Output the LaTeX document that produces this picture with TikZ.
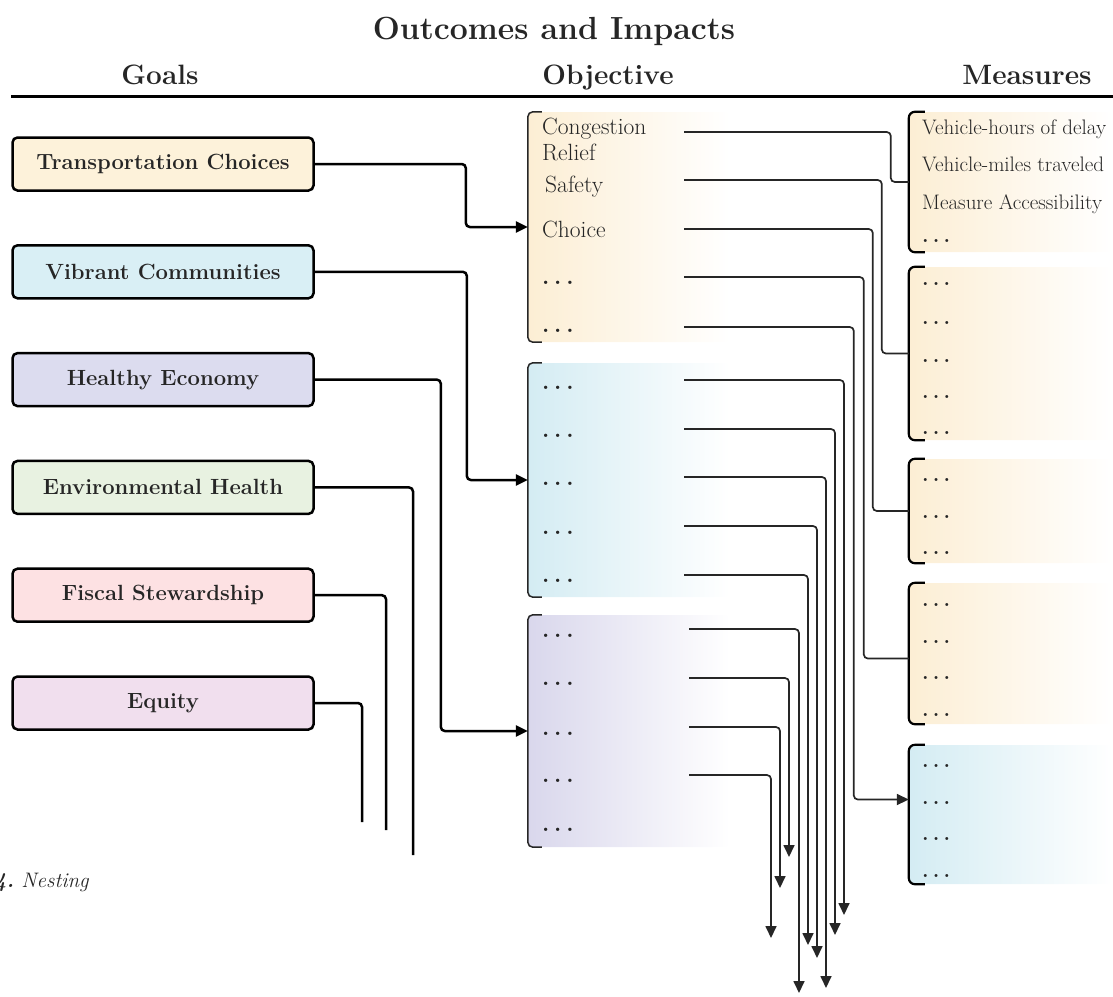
\documentclass[tikz,border=0pt]{standalone}
\usepackage{fontspec}
\usetikzlibrary{arrows.meta, calc, positioning, fit}
\definecolor{inkgray}{HTML}{262626}
\definecolor{tccream}{HTML}{FDF2DA}
\definecolor{vccyan}{HTML}{D9EFF5}
\definecolor{helav}{HTML}{DCDCEF}
\definecolor{ehgreen}{HTML}{E8F2E1}
\definecolor{fspink}{HTML}{FDE1E3}
\definecolor{eqmauve}{HTML}{F1DFEE}
\definecolor{shcream}{HTML}{FCEED4}
\definecolor{shcyan}{HTML}{D4ECF3}
\definecolor{shlav}{HTML}{D9D7EC}
\newcommand{\rowdots}{\textbf{.}\hspace{0.2em}\textbf{.}\hspace{0.2em}\textbf{.}}

\tikzset{
  goalbox/.style={draw=black, line width=2.5pt, rounded corners=5pt,
    minimum width=301pt, minimum height=53pt, inner sep=0pt,
    font=\fontsize{22}{26}\selectfont\bfseries, text=inkgray},
  header/.style={anchor=base, font=\fontsize{28}{32}\selectfont\bfseries, text=inkgray},
  fadebox/.style={inner sep=0pt, rounded corners=4pt},
  objitem/.style={anchor=base west, inner sep=0pt,
    font=\fontsize{23.5}{26}\selectfont, text=inkgray},
  measitem/.style={anchor=base west, inner sep=0pt,
    font=\fontsize{21}{24}\selectfont, text=inkgray},
  objedge/.style={draw=inkgray, line width=1.5pt, rounded corners=5pt},
  measedge/.style={draw=black, line width=2.2pt, rounded corners=6pt},
  goallink/.style={draw=black, line width=2.5pt, rounded corners=4pt},
  objlink/.style={draw=inkgray, line width=1.7pt, rounded corners=4pt},
  tip/.style={-{Triangle[length=12pt,width=11pt]}},
}

\begin{document}
\begin{tikzpicture}[x=1pt, y=-1pt]
    \useasboundingbox (0,0) rectangle (1113,996);

    % headings
    \node[header, font=\fontsize{32}{36}\selectfont\bfseries] (title) at (554,39) {Outcomes and Impacts};
    \node[header] (hgoals) at (160,84) {Goals};
    \node[header] (hobj) at (608,84) {Objective};
    \node[header] (hmeas) at (1027,84) {Measures};
    \draw[line width=3pt] (11,96) -- (1113,96);

    % goals
    \foreach \name/\txt/\col [count=\i] in {g1/Transportation Choices/tccream,
        g2/Vibrant Communities/vccyan, g3/Healthy Economy/helav,
        g4/Environmental Health/ehgreen, g5/Fiscal Stewardship/fspink,
        g6/Equity/eqmauve}
        \node[goalbox, fill=\col] (\name) at (163,{164+107.8*(\i-1)}) {\txt};

    % objective boxes
    \node[fadebox, fit={(528,112) (730,342)}, left color=shcream, right color=white] (ob1) {};
    \node[fadebox, fit={(528,363) (730,597)}, left color=shcyan, right color=white] (ob2) {};
    \node[fadebox, fit={(528,615) (730,847)}, left color=shlav, right color=white] (ob3) {};
    \foreach \b in {ob1,ob2,ob3}
        \draw[objedge] ($(\b.north west)+(14,0)$) -- (\b.north west)
            -- (\b.south west) -- ($(\b.south west)+(14,0)$);

    % measure boxes
    \node[fadebox, fit={(909,112) (1113,252)}, left color=shcream, right color=white] (m1) {};
    \node[fadebox, fit={(909,267) (1113,440)}, left color=shcream, right color=white] (m2) {};
    \node[fadebox, fit={(909,459) (1113,563)}, left color=shcream, right color=white] (m3) {};
    \node[fadebox, fit={(909,583) (1113,724)}, left color=shcream, right color=white] (m4) {};
    \node[fadebox, fit={(909,745) (1113,884)}, left color=shcyan, right color=white] (m5) {};
    \foreach \b in {m1,m2,m3,m4,m5}
        \draw[measedge] ($(\b.north west)+(16,0)$) -- (\b.north west)
            -- (\b.south west) -- ($(\b.south west)+(16,0)$);

    % objective items
    \node[objitem] (o1c) at (542,134) {Congestion};
    \node[objitem] (o1r) at (542,160) {Relief};
    \node[objitem] (o12) at (545,192) {Safety};
    \node[objitem] (o13) at (542,237) {Choice};
    \node[objitem] (o14) at (542,284) {\rowdots};
    \node[objitem] (o15) at (542,332) {\rowdots};
    \foreach \y [count=\i] in {389,437,485,534,582}
        \node[objitem] (o2\i) at (542,\y) {\rowdots};
    \foreach \y [count=\i] in {637,685,735,782,831}
        \node[objitem] (o3\i) at (542,\y) {\rowdots};

    % measure items
    \node[measitem] (m1a) at (922,134) {Vehicle-hours of delay};
    \node[measitem] (m1b) at (922,171) {Vehicle-miles traveled};
    \node[measitem] (m1c) at (922,209) {Measure Accessibility};
    \node[measitem] (m1d) at (922,242) {\rowdots};
    \foreach \y [count=\i] in {285,324,362,398,434}
        \node[measitem] (m2\i) at (922,\y) {\rowdots};
    \foreach \y [count=\i] in {481,518,554}
        \node[measitem] (m3\i) at (922,\y) {\rowdots};
    \foreach \y [count=\i] in {606,643,679,716}
        \node[measitem] (m4\i) at (922,\y) {\rowdots};
    \foreach \y [count=\i] in {767,804,840,877}
        \node[measitem] (m5\i) at (922,\y) {\rowdots};

    % goals to objectives
    \draw[goallink, tip] (g1.east) -| ($(ob1.west)+(-62,0)$) -- (ob1.west);
    \draw[goallink, tip] (g2.east) -| ($(ob2.west)+(-61,0)$) -- (ob2.west);
    \draw[goallink, tip] (g3.east) -| ($(ob3.west)+(-87,0)$) -- (ob3.west);
    \coordinate (e4) at (413,855);
    \coordinate (e5) at (386,830);
    \coordinate (e6) at (362,822);
    \draw[goallink] (g4.east) -| (e4);
    \draw[goallink] (g5.east) -| (e5);
    \draw[goallink] (g6.east) -| (e6);

    % objectives to measures
    \foreach \y [count=\i] in {132,180,229,277,327}
        \coordinate (s1\i) at (684,\y);
    \draw[objlink] (s11) -| ($(m1.west)+(-18,0)$) -- (m1.west);
    \draw[objlink] (s12) -| ($(m2.west)+(-27,0)$) -- (m2.west);
    \draw[objlink] (s13) -| ($(m3.west)+(-36,0)$) -- (m3.west);
    \draw[objlink] (s14) -| ($(m4.west)+(-45,5)$) -- ($(m4.west)+(0,5)$);
    \draw[objlink, tip] (s15) -| ($(m5.west)+(-55,-15)$) -- ($(m5.west)+(0,-15)$);

    % loose ends
    \foreach \y/\cx/\ty [count=\i] in {380/844/915, 429/835/935, 477/826/988,
        526/817/958, 575/808/945} {
        \coordinate (s2\i) at (684,\y);
        \coordinate (t2\i) at (\cx,\ty);
        \draw[objlink, tip] (s2\i) -| (t2\i);
    }
    \foreach \y/\cx/\ty [count=\i] in {629/799/993, 678/789/857, 727/780/888,
        775/771/938} {
        \coordinate (s3\i) at (689,\y);
        \coordinate (t3\i) at (\cx,\ty);
        \draw[objlink, tip] (s3\i) -| (t3\i);
    }

    \node[anchor=base west, inner sep=0pt, font=\fontsize{21}{24}\selectfont\itshape,
        text=inkgray] (cap) at (-6,887) {\textbf{4.}\ Nesting};
\end{tikzpicture}
\end{document}
